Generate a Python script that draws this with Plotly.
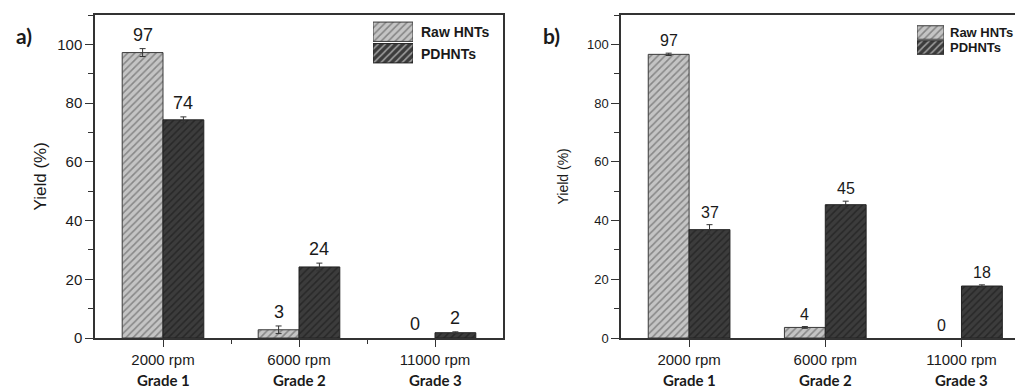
import plotly.graph_objects as go

categories = ["2000 rpm", "6000 rpm", "11000 rpm"]
grades = ["Grade 1", "Grade 2", "Grade 3"]
series_names = ["Raw HNTs", "PDHNTs"]

# panel a
a_raw = [97.2, 2.8, 0.0]
a_raw_err = [1.35, 1.3, None]
a_pd = [74.3, 24.2, 1.8]
a_pd_err = [1.0, 1.3, 0.3]

# panel b
b_raw = [96.6, 3.6, 0.0]
b_raw_err = [0.4, 0.3, None]
b_pd = [36.9, 45.4, 17.7]
b_pd_err = [1.7, 1.2, 0.4]

yticks = [0, 20, 40, 60, 80, 100]

W, H = 1015, 388
T, B = 15, 50
PH = H - T - B
AX = "#333333"
TXT = "#1a1a1a"

RAW_BG, RAW_FG = "#c4c4c4", "#4a4a4a"
PD_BG, PD_FG = "#3c3c3c", "#141414"


def style(bg, fg, edge):
    return dict(color=bg, line=dict(color=edge, width=1),
                pattern=dict(shape="/", fgcolor=fg, bgcolor=bg, size=5, solidity=0.32))


def shown(vals):
    # a zero-height bar is drawn as nothing (only its "0" label remains)
    return [v if v > 0 else None for v in vals]


def py(px):
    """pixel row -> paper y"""
    return (H - B - px) / PH


xs = list(range(len(categories)))
fig = go.Figure()


def add_panel(raw, raw_err, pdv, pd_err, xa, ya):
    fig.add_trace(go.Bar(x=xs, y=shown(raw), name=series_names[0], marker=style(RAW_BG, RAW_FG, "#3a3a3a"),
                         offsetgroup="r", showlegend=False,
                         error_y=dict(type="data", array=raw_err, color=AX, thickness=1, width=3),
                         xaxis=xa, yaxis=ya))
    fig.add_trace(go.Bar(x=xs, y=shown(pdv), name=series_names[1], marker=style(PD_BG, PD_FG, "#222222"),
                         offsetgroup="p", showlegend=False,
                         error_y=dict(type="data", array=pd_err, color=AX, thickness=1, width=3),
                         xaxis=xa, yaxis=ya))


add_panel(a_raw, a_raw_err, a_pd, a_pd_err, "x", "y")
add_panel(b_raw, b_raw_err, b_pd, b_pd_err, "x2", "y2")

# legend swatches (drawn as patterned bars on small helper axes)
for xa, ya in (("x3", "y3"), ("x4", "y4")):
    fig.add_trace(go.Bar(y=[1, 0], x=[1, 1], orientation="h", showlegend=False, hoverinfo="skip",
                         width=0.9,
                         marker=dict(color=[RAW_BG, PD_BG],
                                     line=dict(color=["#3a3a3a", "#222222"], width=1),
                                     pattern=dict(shape="/", fgcolor=[RAW_FG, PD_FG],
                                                  bgcolor=[RAW_BG, PD_BG], size=5, solidity=0.32)),
                         xaxis=xa, yaxis=ya))

ann = []


def value_labels(raw, raw_err, pdv, pd_err, xr, yr, size):
    for vals, errs, off in ((raw, raw_err, -0.15), (pdv, pd_err, 0.15)):
        for i, (v, e) in enumerate(zip(vals, errs)):
            ann.append(dict(x=i + off, y=v + (e or 0), xref=xr, yref=yr, text=str(round(v)),
                            showarrow=False, yanchor="bottom", yshift=2,
                            font=dict(family="Liberation Sans", size=size, color=TXT)))


value_labels(a_raw, a_raw_err, a_pd, a_pd_err, "x", "y", 18)
value_labels(b_raw, b_raw_err, b_pd, b_pd_err, "x2", "y2", 16)

for xr in ("x", "x2"):
    for i, g in enumerate(grades):
        ann.append(dict(x=i, y=0, xref=xr, yref="paper", text="<b>" + g + "</b>", showarrow=False,
                        yanchor="middle", yshift=-42,
                        font=dict(family="Lato", size=15, color=TXT)))

for txt, x in (("a)", 14), ("b)", 541)):
    ann.append(dict(x=x / W, y=py(35), xref="paper", yref="paper", text="<b>" + txt + "</b>",
                    showarrow=False, xanchor="left", yanchor="middle",
                    font=dict(family="Lato", size=21, color=TXT)))

ann.append(dict(x=40 / W, y=0.5, xref="paper", yref="paper", text="Yield (%)", textangle=-90,
                xanchor="center", showarrow=False,
                font=dict(family="Liberation Sans", size=17, color=TXT)))
ann.append(dict(x=562 / W, y=0.5, xref="paper", yref="paper", text="Yield (%)", textangle=-90,
                xanchor="center", showarrow=False,
                font=dict(family="Liberation Sans", size=14, color=TXT)))

# legend texts
for name, ypx in zip(series_names, (32, 54)):
    ann.append(dict(x=419 / W, y=py(ypx), xref="paper", yref="paper", text="<b>" + name + "</b>",
                    showarrow=False, xanchor="left", yanchor="middle",
                    font=dict(family="Liberation Sans", size=14, color=TXT)))
for name, ypx in zip(series_names, (32, 48)):
    ann.append(dict(x=948 / W, y=py(ypx), xref="paper", yref="paper", text="<b>" + name + "</b>",
                    showarrow=False, xanchor="left", yanchor="middle",
                    font=dict(family="Liberation Sans", size=13, color=TXT)))

common_x = dict(tickvals=xs, ticktext=categories, ticks="outside", ticklen=7, tickwidth=1.2,
                tickcolor=AX, showline=True, linecolor=AX, linewidth=1.5, mirror=True,
                showgrid=False, zeroline=False,
                tickfont=dict(family="Liberation Sans", size=15, color=TXT))
common_y = dict(range=[0, 110], tickvals=yticks, ticks="outside", ticklen=8, tickwidth=1.2,
                tickcolor=AX, showline=True, linecolor=AX, linewidth=1.5,
                showgrid=False, zeroline=False,
                minor=dict(dtick=10, tick0=0, ticks="outside", ticklen=5, tickcolor=AX, tickwidth=1.2))
hidden = dict(visible=False, showgrid=False, zeroline=False, fixedrange=True)

fig.update_layout(
    width=W, height=H,
    margin=dict(l=0, r=0, t=T, b=B),
    plot_bgcolor="rgba(0,0,0,0)", paper_bgcolor="white",
    barmode="group", bargap=0.4, bargroupgap=0,
    showlegend=False,
    xaxis=dict(domain=[95 / W, 503 / W], range=[-0.5, 2.5], anchor="y",
               minor=dict(tickvals=[0.5, 1.5], ticks="outside", ticklen=4, tickcolor=AX, tickwidth=1.2),
               **common_x),
    yaxis=dict(domain=[0, 1], anchor="x", mirror=True,
               tickfont=dict(family="Liberation Sans", size=15, color=TXT), **common_y),
    xaxis2=dict(domain=[621 / W, 1.0], range=[-0.5, 2.393], anchor="y2", **common_x),
    yaxis2=dict(domain=[0, 1], anchor="x2", mirror=False,
                tickfont=dict(family="Liberation Sans", size=13, color=TXT), **common_y),
    xaxis3=dict(domain=[373 / W, 413 / W], range=[0, 1], anchor="y3", **hidden),
    yaxis3=dict(domain=[py(64), py(21)], range=[-0.5, 1.5], anchor="x3", **hidden),
    xaxis4=dict(domain=[917 / W, 944 / W], range=[0, 1], anchor="y4", **hidden),
    yaxis4=dict(domain=[py(55), py(25)], range=[-0.5, 1.5], anchor="x4", **hidden),
    annotations=ann,
)

fig.write_html("out.html")
